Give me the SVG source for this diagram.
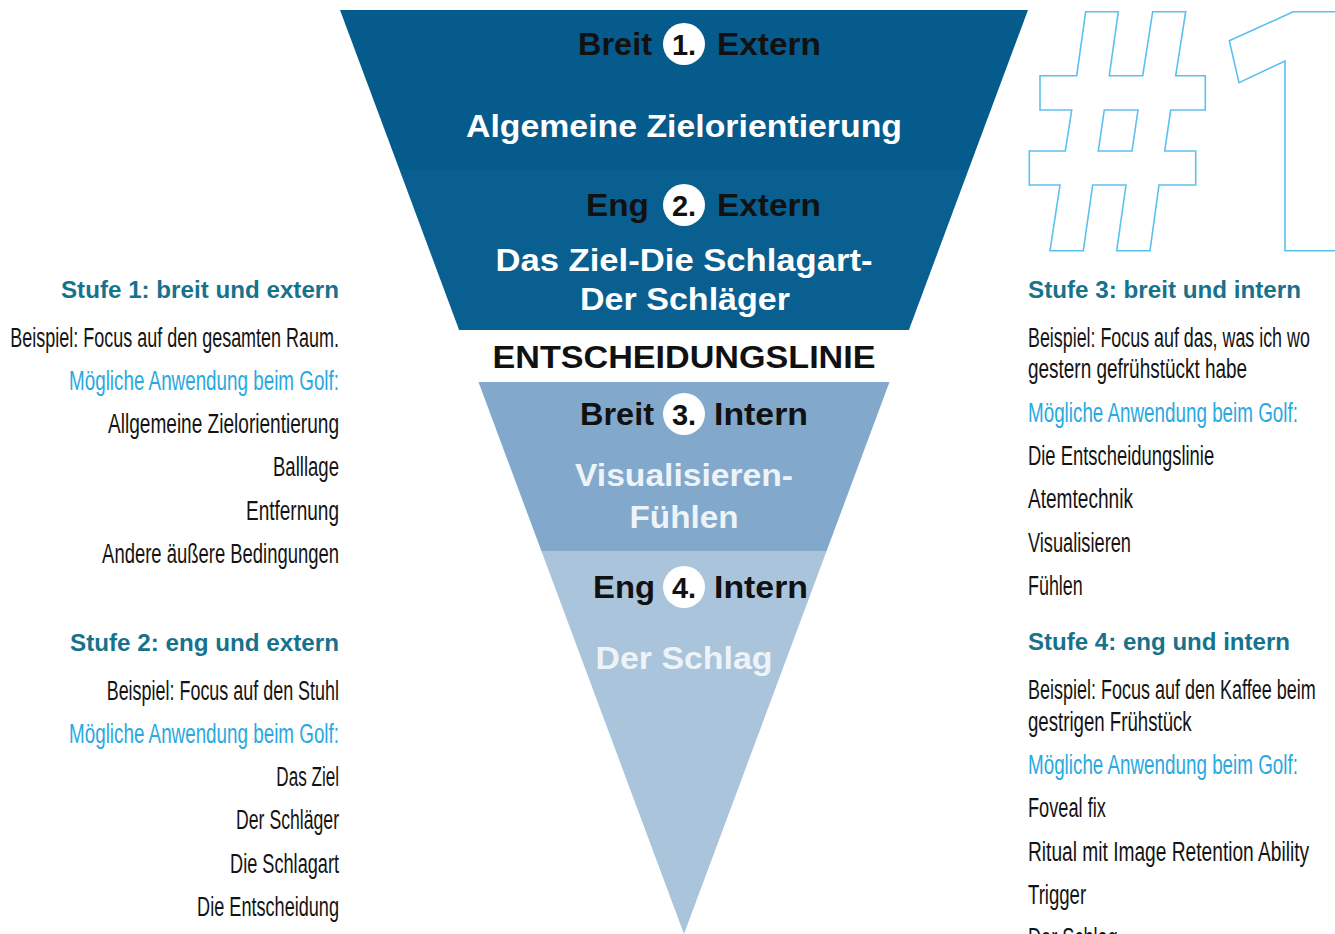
<svg xmlns="http://www.w3.org/2000/svg" width="1335" height="934" viewBox="0 0 1335 934">
<style>
.fb{font-family:"Liberation Sans",Arial,sans-serif;font-weight:bold;font-size:32px;}
.blk{fill:#111;}
.wht{fill:#fff;}
.lt{fill:#eef3f8;}
.num{font-family:"Liberation Sans",Arial,sans-serif;font-weight:bold;font-size:29px;fill:#111;text-anchor:middle;}
.h{font-family:"Liberation Sans",Arial,sans-serif;font-weight:bold;font-size:24px;fill:#17728c;}
.b{font-family:"Liberation Sans",Arial,sans-serif;font-size:27px;fill:#141414;}
.c{fill:#29a9e1;}
.L{text-anchor:end;}
.outline{fill:none;stroke:#5cc0ef;stroke-width:1.6;stroke-linejoin:miter;}
</style>
<rect width="1335" height="934" fill="#fff"/>

<g id="hash-one">
<path class="outline" d="M1085.7,11.7 L1118.3,11.7 L1109.3,75.7 L1142.7,75.7 L1152.7,11.7 L1185.7,11.7 L1175.7,75.7 L1205.3,75.7 L1205.3,110 L1170.7,110 L1164.7,151 L1195.7,151 L1195.7,185 L1159,185 L1150,250.7 L1116.7,250.7 L1126,185 L1092.7,185 L1083.3,250.7 L1050,250.7 L1060,185 L1029.3,185 L1029.3,151 L1065.3,151 L1071.7,110 L1040,110 L1040,75.7 L1076.7,75.7 Z M1104.3,110 L1138,110 L1132,151 L1098.3,151 Z"/>
<path class="outline" d="M1293.3,11.7 L1229.3,40.7 L1239,82.7 L1285,61 L1285,250.7 L1340,250.7 L1340,11.7 Z"/>
</g>

<g id="stage1">
<polygon points="340,10 1028,10 968.4,170 399.6,170" fill="#055b8c"/>
<text class="fb blk" x="652" y="55" text-anchor="end" textLength="74" lengthAdjust="spacingAndGlyphs">Breit</text>
<circle cx="684" cy="44" r="21" fill="#fff"/>
<text class="num" x="684" y="54.5">1.</text>
<text class="fb blk" x="717" y="55" textLength="104" lengthAdjust="spacingAndGlyphs">Extern</text>
<text class="fb wht" x="684" y="137" text-anchor="middle" textLength="436" lengthAdjust="spacingAndGlyphs">Algemeine Zielorientierung</text>
</g>

<g id="stage2">
<polygon points="399.6,170 968.4,170 908.9,330 459.1,330" fill="#0a5f91"/>
<text class="fb blk" x="649" y="216" text-anchor="end" textLength="63" lengthAdjust="spacingAndGlyphs">Eng</text>
<circle cx="684" cy="205" r="21" fill="#fff"/>
<text class="num" x="684" y="215.5">2.</text>
<text class="fb blk" x="717" y="216" textLength="104" lengthAdjust="spacingAndGlyphs">Extern</text>
<text class="fb wht" x="684" y="271" text-anchor="middle" textLength="377" lengthAdjust="spacingAndGlyphs">Das Ziel-Die Schlagart-</text>
<text class="fb wht" x="685" y="310" text-anchor="middle" textLength="210" lengthAdjust="spacingAndGlyphs">Der Schläger</text>
</g>

<g id="decision-line">
<text class="fb blk" x="684" y="368" text-anchor="middle" textLength="383" lengthAdjust="spacingAndGlyphs">ENTSCHEIDUNGSLINIE</text>
</g>

<g id="stage3">
<polygon points="478.5,382 889.5,382 826.6,551 541.4,551" fill="#82a9cc"/>
<text class="fb blk" x="654" y="425" text-anchor="end" textLength="74" lengthAdjust="spacingAndGlyphs">Breit</text>
<circle cx="684" cy="414" r="21" fill="#fff"/>
<text class="num" x="684" y="424.5">3.</text>
<text class="fb blk" x="714" y="425" textLength="94" lengthAdjust="spacingAndGlyphs">Intern</text>
<text class="fb lt" x="684" y="486" text-anchor="middle" textLength="218" lengthAdjust="spacingAndGlyphs">Visualisieren-</text>
<text class="fb lt" x="684" y="528" text-anchor="middle" textLength="109" lengthAdjust="spacingAndGlyphs">Fühlen</text>
</g>

<g id="stage4">
<polygon points="541.4,551 826.6,551 684,934" fill="#aac4dc"/>
<text class="fb blk" x="655" y="598" text-anchor="end" textLength="62" lengthAdjust="spacingAndGlyphs">Eng</text>
<circle cx="684" cy="587" r="21" fill="#fff"/>
<text class="num" x="684" y="597.5">4.</text>
<text class="fb blk" x="714" y="598" textLength="94" lengthAdjust="spacingAndGlyphs">Intern</text>
<text class="fb lt" x="684" y="669" text-anchor="middle" textLength="177" lengthAdjust="spacingAndGlyphs">Der Schlag</text>
</g>

<g id="left-stufe1">
<text class="h L" x="339" y="298" textLength="278" lengthAdjust="spacingAndGlyphs">Stufe 1: breit und extern</text>
<g transform="translate(339 0) scale(0.66 1)">
<text class="b L" x="0" y="347" textLength="498" lengthAdjust="spacingAndGlyphs">Beispiel: Focus auf den gesamten Raum.</text>
<text class="b c L" x="0" y="390" textLength="409" lengthAdjust="spacingAndGlyphs">Mögliche Anwendung beim Golf:</text>
<text class="b L" x="0" y="433" textLength="350" lengthAdjust="spacingAndGlyphs">Allgemeine Zielorientierung</text>
<text class="b L" x="0" y="476" textLength="100" lengthAdjust="spacingAndGlyphs">Balllage</text>
<text class="b L" x="0" y="520" textLength="141" lengthAdjust="spacingAndGlyphs">Entfernung</text>
<text class="b L" x="0" y="563" textLength="359" lengthAdjust="spacingAndGlyphs">Andere äußere Bedingungen</text>
</g>
</g>

<g id="left-stufe2">
<text class="h L" x="339" y="651" textLength="269" lengthAdjust="spacingAndGlyphs">Stufe 2: eng und extern</text>
<g transform="translate(339 0) scale(0.66 1)">
<text class="b L" x="0" y="700" textLength="352" lengthAdjust="spacingAndGlyphs">Beispiel: Focus auf den Stuhl</text>
<text class="b c L" x="0" y="743" textLength="409" lengthAdjust="spacingAndGlyphs">Mögliche Anwendung beim Golf:</text>
<text class="b L" x="0" y="786" textLength="95" lengthAdjust="spacingAndGlyphs">Das Ziel</text>
<text class="b L" x="0" y="829" textLength="156" lengthAdjust="spacingAndGlyphs">Der Schläger</text>
<text class="b L" x="0" y="873" textLength="165" lengthAdjust="spacingAndGlyphs">Die Schlagart</text>
<text class="b L" x="0" y="916" textLength="215" lengthAdjust="spacingAndGlyphs">Die Entscheidung</text>
</g>
</g>

<g id="right-stufe3">
<text class="h" x="1028" y="298" textLength="273" lengthAdjust="spacingAndGlyphs">Stufe 3: breit und intern</text>
<g transform="translate(1028 0) scale(0.66 1)">
<text class="b" x="0" y="347" textLength="427" lengthAdjust="spacingAndGlyphs">Beispiel: Focus auf das, was ich wo</text>
<text class="b" x="0" y="378" textLength="332" lengthAdjust="spacingAndGlyphs">gestern gefrühstückt habe</text>
<text class="b c" x="0" y="422" textLength="409" lengthAdjust="spacingAndGlyphs">Mögliche Anwendung beim Golf:</text>
<text class="b" x="0" y="465" textLength="282" lengthAdjust="spacingAndGlyphs">Die Entscheidungslinie</text>
<text class="b" x="0" y="508" textLength="159" lengthAdjust="spacingAndGlyphs">Atemtechnik</text>
<text class="b" x="0" y="552" textLength="156" lengthAdjust="spacingAndGlyphs">Visualisieren</text>
<text class="b" x="0" y="595" textLength="83" lengthAdjust="spacingAndGlyphs">Fühlen</text>
</g>
</g>

<g id="right-stufe4">
<text class="h" x="1028" y="650" textLength="262" lengthAdjust="spacingAndGlyphs">Stufe 4: eng und intern</text>
<g transform="translate(1028 0) scale(0.66 1)">
<text class="b" x="0" y="699" textLength="436" lengthAdjust="spacingAndGlyphs">Beispiel: Focus auf den Kaffee beim</text>
<text class="b" x="0" y="731" textLength="248" lengthAdjust="spacingAndGlyphs">gestrigen Frühstück</text>
<text class="b c" x="0" y="774" textLength="409" lengthAdjust="spacingAndGlyphs">Mögliche Anwendung beim Golf:</text>
<text class="b" x="0" y="817" textLength="118" lengthAdjust="spacingAndGlyphs">Foveal fix</text>
<text class="b" x="0" y="861" textLength="426" lengthAdjust="spacingAndGlyphs">Ritual mit Image Retention Ability</text>
<text class="b" x="0" y="904" textLength="88" lengthAdjust="spacingAndGlyphs">Trigger</text>
<text class="b" x="0" y="947" textLength="136" lengthAdjust="spacingAndGlyphs">Der Schlag</text>
</g>
</g>
</svg>
